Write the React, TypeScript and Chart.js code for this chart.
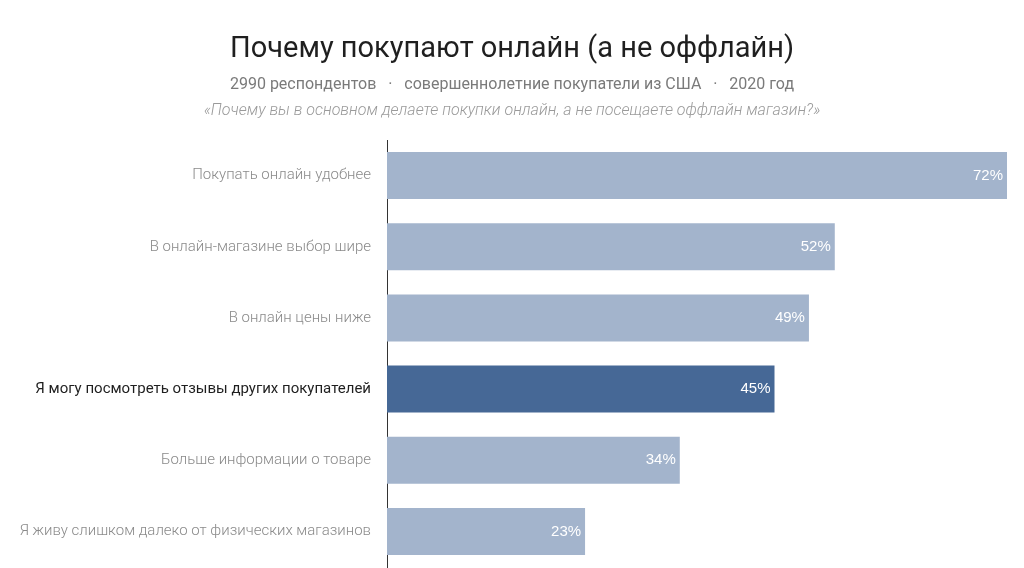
import React, { useEffect, useRef } from "react";
import { Chart, registerables } from "chart.js";

Chart.register(...registerables);

const categories = [
  "Покупать онлайн удобнее",
  "В онлайн-магазине выбор шире",
  "В онлайн цены ниже",
  "Я могу посмотреть отзывы других покупателей",
  "Больше информации о товаре",
  "Я живу слишком далеко от физических магазинов",
];
const values = [72, 52, 49, 45, 34, 23];
const highlightIndex = 3;
const titleText = "Почему покупают онлайн (а не оффлайн)";
const subtitleText = "2990 респондентов   ·   совершеннолетние покупатели из США   ·   2020 год";
const questionText = "«Почему вы в основном делаете покупки онлайн, а не посещаете оффлайн магазин?»";

const LIGHT = "#a3b4cc";
const DARK = "#466896";

const headerPlugin = {
  id: "header",
  afterDraw(chart: any) {
    const ctx = chart.ctx;
    const cx = chart.width / 2;
    ctx.save();
    ctx.textAlign = "center";
    ctx.textBaseline = "middle";
    ctx.fillStyle = "#1f1f1f";
    ctx.font = "400 29px Roboto";
    ctx.fillText(titleText, cx, 50);
    ctx.fillStyle = "#7a7a7a";
    ctx.font = "400 16px Roboto";
    ctx.fillText(subtitleText, cx, 85);
    ctx.fillStyle = "#9a9a9a";
    ctx.font = "italic 300 16px Roboto";
    ctx.fillText(questionText, cx, 111);
    ctx.restore();
  },
};

const valueLabelPlugin = {
  id: "valueLabels",
  afterDatasetsDraw(chart: any) {
    const ctx = chart.ctx;
    const meta = chart.getDatasetMeta(0);
    ctx.save();
    ctx.fillStyle = "#ffffff";
    ctx.font = "300 15px 'Liberation Sans'";
    ctx.textAlign = "right";
    ctx.textBaseline = "middle";
    meta.data.forEach((bar: any, i: number) => {
      ctx.fillText(values[i] + "%", bar.x - 4, bar.y);
    });
    ctx.restore();
  },
};

export default function App() {
  const ref = useRef<HTMLCanvasElement>(null);
  useEffect(() => {
    if (!ref.current) return;
    const chart = new Chart(ref.current, {
      type: "bar",
      data: {
        labels: categories,
        datasets: [
          {
            data: values,
            backgroundColor: values.map((_, i) => (i === highlightIndex ? DARK : LIGHT)),
            categoryPercentage: 0.66,
            barPercentage: 1,
          },
        ],
      },
      options: {
        indexAxis: "y",
        animation: false,
        responsive: false,
        layout: { padding: { top: 140, right: 17, bottom: 1, left: 0 } },
        plugins: {
          legend: { display: false },
          tooltip: { enabled: false },
          title: { display: false },
        },
        scales: {
          x: {
            min: 0,
            max: 72,
            display: false,
            grid: { display: false },
          },
          y: {
            afterFit(scale: any) {
              scale.width = 387;
              scale.paddingTop = 0;
              scale.paddingBottom = 0;
            },
            grid: { display: false, drawTicks: false },
            border: { display: true, color: "#333333", width: 1 },
            ticks: {
              padding: 16,
              font: (c: any) => ({
                family: "Roboto",
                size: 15,
                weight: c.index === highlightIndex ? "400" : "300",
              }),
              color: (c: any) => (c.index === highlightIndex ? "#1f1f1f" : "#8a8a8a"),
            },
          },
        },
      },
      plugins: [headerPlugin, valueLabelPlugin],
    } as any);
    return () => chart.destroy();
  }, []);
  return (
    <div style={{ position: "fixed", left: 0, top: 0, width: 1024, height: 568, background: "#fff" }}>
      <canvas ref={ref} width={1024} height={568} style={{ width: 1024, height: 568 }} />
    </div>
  );
}
